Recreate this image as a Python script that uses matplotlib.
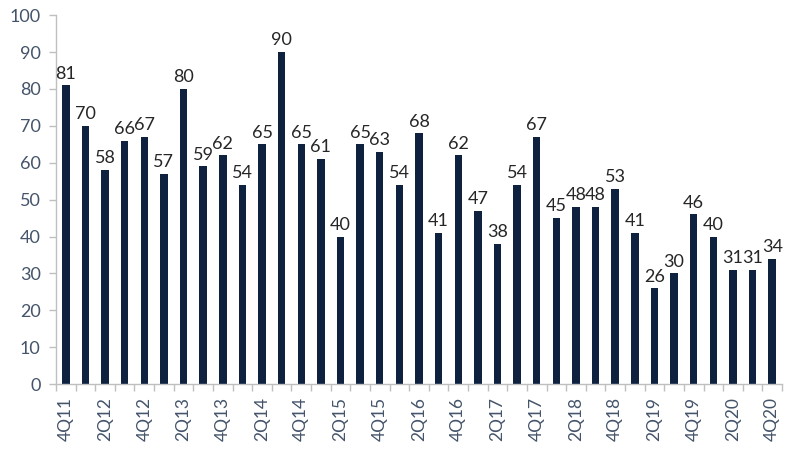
import numpy as np
import matplotlib.pyplot as plt
from matplotlib.ticker import FixedLocator

quarters = ['4Q11', '1Q12', '2Q12', '3Q12', '4Q12', '1Q13', '2Q13', '3Q13', '4Q13',
            '1Q14', '2Q14', '3Q14', '4Q14', '1Q15', '2Q15', '3Q15', '4Q15',
            '1Q16', '2Q16', '3Q16', '4Q16', '1Q17', '2Q17', '3Q17', '4Q17',
            '1Q18', '2Q18', '3Q18', '4Q18', '1Q19', '2Q19', '3Q19', '4Q19',
            '1Q20', '2Q20', '3Q20', '4Q20']
values = [81, 70, 58, 66, 67, 57, 80, 59, 62, 54, 65, 90, 65, 61, 40, 65, 63,
          54, 68, 41, 62, 47, 38, 54, 67, 45, 48, 48, 53, 41, 26, 30, 46, 40,
          31, 31, 34]

BAR = '#0e2240'
TICK_TXT = '#44546a'
AXIS = '#bfbfbf'

plt.rcParams['font.family'] = ['Lato', 'DejaVu Sans']

fig = plt.figure(figsize=(8, 4.59), dpi=100)
ax = fig.add_axes([0.07, 0.163, 0.9075, 0.804])

x = np.arange(len(values))
ax.bar(x, values, width=0.38, color=BAR, zorder=2)
for xi, v in zip(x, values):
    ax.text(xi, v + 1.0, str(v), ha='center', va='bottom', fontsize=13,
            color='#262626')

ax.set_xlim(-0.5, len(values) - 0.5)
ax.set_ylim(0, 100)
ax.set_yticks(np.arange(0, 101, 10))

ax.set_xticks(x[::2])
ax.set_xticklabels(quarters[::2], rotation=90, fontsize=12.5, color=TICK_TXT)
ax.xaxis.set_minor_locator(FixedLocator(np.arange(-0.5, len(values), 1)))
ax.tick_params(axis='x', which='major', length=0, pad=9)
ax.tick_params(axis='x', which='minor', length=5, color=AXIS, width=1)
ax.tick_params(axis='y', length=5, color=AXIS, width=1, labelsize=13,
               labelcolor=TICK_TXT, pad=6)

for s in ['top', 'right']:
    ax.spines[s].set_visible(False)
for s in ['left', 'bottom']:
    ax.spines[s].set_color(AXIS)
    ax.spines[s].set_linewidth(1)

fig.savefig('out.png', dpi=100)
